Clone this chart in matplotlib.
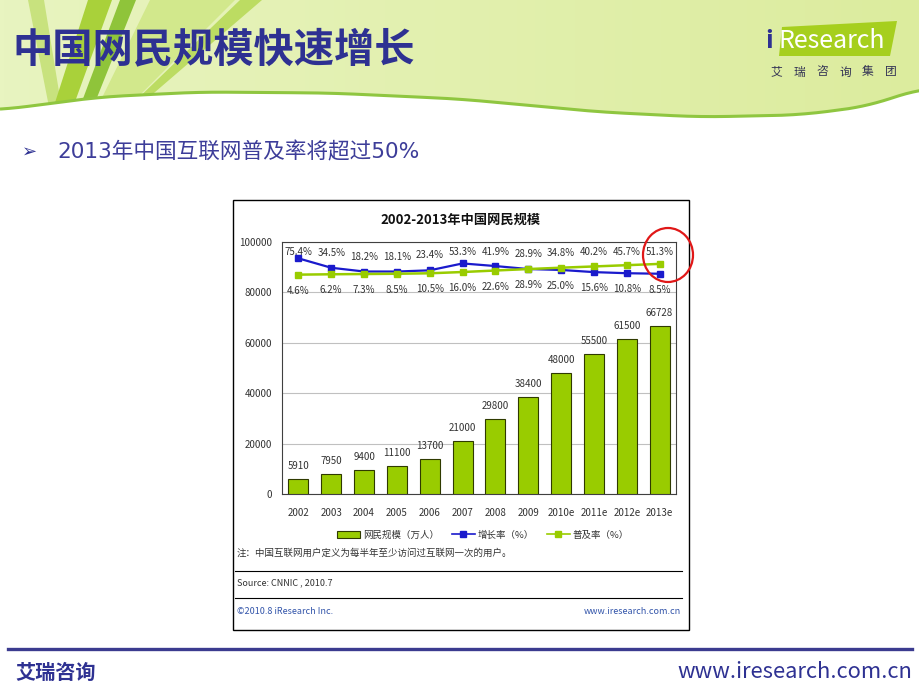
import numpy as np
import matplotlib.pyplot as plt
from matplotlib.patches import Ellipse, Rectangle, Polygon, Patch
from matplotlib.lines import Line2D
from matplotlib.colors import LinearSegmentedColormap

plt.rcParams['font.family'] = ['Noto Sans CJK SC', 'DejaVu Sans']

# Data
years = ['2002', '2003', '2004', '2005', '2006', '2007', '2008', '2009',
         '2010e', '2011e', '2012e', '2013e']
users = [5910, 7950, 9400, 11100, 13700, 21000, 29800, 38400,
         48000, 55500, 61500, 66728]          # 网民规模（万人）
growth = [75.4, 34.5, 18.2, 18.1, 23.4, 53.3, 41.9, 28.9,
          25.0, 15.6, 10.8, 8.5]              # 增长率（%）
penetration = [4.6, 6.2, 7.3, 8.5, 10.5, 16.0, 22.6, 28.9,
               34.8, 40.2, 45.7, 51.3]        # 普及率（%）
y_ticks = [0, 20000, 40000, 60000, 80000, 100000]

navy = '#2e3192'
bar_green = '#99cc00'
line_blue = '#1a1acc'
text_gray = '#333333'

fig = plt.figure(figsize=(9.2, 6.9), dpi=100)

# slide background, in pixel coordinates
bg = fig.add_axes([0, 0, 1, 1], zorder=0)

# header band with wavy lower edge
wave_x = np.linspace(0, 920, 400)
px = [0, 100, 200, 330, 460, 600, 700, 800, 870, 920]
py = [110, 97, 92, 93, 99, 112, 117, 115, 106, 88]
wave_y = np.interp(wave_x, px, py)
kernel = np.ones(25) / 25
wave_y = np.convolve(np.pad(wave_y, 12, mode='edge'), kernel, mode='valid')

head_verts = [(0, 0), (920, 0)] + list(zip(wave_x[::-1], wave_y[::-1]))
head = Polygon(head_verts, closed=True, facecolor='none', edgecolor='none')
bg.add_patch(head)
cmap = LinearSegmentedColormap.from_list('head', ['#e8f4c0', '#e2f0ae', '#dcec9e'])
im = bg.imshow(np.linspace(0, 1, 256)[None, :], extent=(0, 920, 125, 0),
               cmap=cmap, aspect='auto', zorder=0)
im.set_clip_path(head)

stripes = [
    ([(28, 0), (44, 0), (62, 110), (50, 112)], '#c8e27e'),
    ([(88, 0), (112, 0), (72, 110), (52, 112)], '#a9d13a'),
    ([(120, 0), (136, 0), (92, 110), (78, 112)], '#8fc43a'),
    ([(150, 0), (235, 0), (125, 110), (95, 112)], '#d2e88c'),
    ([(240, 0), (262, 0), (140, 105), (128, 108)], '#bcdc62'),
]
for verts, col in stripes:
    s = Polygon(verts, closed=True, facecolor=col, edgecolor='none', zorder=1)
    bg.add_patch(s)
    s.set_clip_path(head)

bg.plot(wave_x, wave_y, color='#8fc640', lw=2.2, zorder=2, solid_capstyle='butt')

bg.set_xlim(0, 920)
bg.set_ylim(690, 0)
bg.axis('off')

# slide title
bg.text(12, 50, '中国网民规模快速增长', fontsize=29, fontweight='bold',
        color=navy, va='center', ha='left')

# logo
bg.add_patch(Polygon([(782, 27), (897, 21), (890, 56), (779, 56)], closed=True,
                     facecolor='#a6cf1e', edgecolor='none', zorder=3))
bg.text(765, 41, 'i', fontsize=18, fontweight='bold', color=navy,
        va='center', ha='left', zorder=4)
bg.text(779, 41, 'Research', fontsize=18, color='white',
        va='center', ha='left', zorder=4)
for cx, ch in zip(np.linspace(776, 891, 6), '艾瑞咨询集团'):
    bg.text(cx, 72, ch, fontsize=8.5, color='#333355', ha='center', va='center')

# bullet line
bg.text(22, 152, '➢', fontsize=13, color=navy, va='center', ha='left',
        family='DejaVu Sans')
bg.text(57, 152, '2013年中国互联网普及率将超过50%', fontsize=15.6,
        color='#3d3d99', va='center', ha='left',
        family=['DejaVu Sans', 'Noto Sans CJK SC'])

# chart frame
bg.add_patch(Rectangle((233, 200), 456, 430, facecolor='white',
                       edgecolor='black', lw=1, zorder=3))
bg.text(461, 220, '2002-2013年中国网民规模', fontsize=9.5, fontweight='bold',
        color='#111111', ha='center', va='center', zorder=4)

bg.text(237, 553, '注：中国互联网用户定义为每半年至少访问过互联网一次的用户。',
        fontsize=6.8, color=text_gray, ha='left', va='center', zorder=4)
bg.plot([235, 682], [571, 571], color='black', lw=0.8, zorder=4)
bg.text(237, 583, 'Source: CNNIC , 2010.7', fontsize=6.5, color=text_gray,
        ha='left', va='center', zorder=4)
bg.plot([235, 682], [598, 598], color='black', lw=0.8, zorder=4)
bg.text(237, 612, '©2010.8 iResearch Inc.', fontsize=6.5, color='#3355aa',
        ha='left', va='center', zorder=4)
bg.text(681, 612, 'www.iresearch.com.cn', fontsize=6.5, color='#3355aa',
        ha='right', va='center', zorder=4)

# footer
bg.plot([8, 912], [649, 649], color='#3b3b8f', lw=2.4, zorder=2)
bg.text(15, 672, '艾瑞咨询', fontsize=14.5, fontweight='bold', color=navy,
        ha='left', va='center')
bg.text(912, 672, 'www.iresearch.com.cn', fontsize=15.8, color=navy,
        ha='right', va='center')

# chart plot area
ax = fig.add_axes([282 / 920, (690 - 494) / 690, 394 / 920, 252 / 690], zorder=2)
x = np.arange(len(years))
ax.bar(x, users, width=0.61, color=bar_green, edgecolor='#2f3a00', lw=0.8,
       zorder=3, label='网民规模（万人）')
for xi, v in zip(x, users):
    ax.annotate(str(v), (xi, v), xytext=(0, 9.5), textcoords='offset points',
                ha='center', va='center', fontsize=7, color=text_gray)

ax.set_xlim(-0.5, len(years) - 0.5)
ax.set_ylim(0, 100000)
ax.set_yticks(y_ticks)
ax.set_yticklabels([str(t) for t in y_ticks])
ax.set_xticks(x)
ax.set_xticklabels(years)
ax.tick_params(axis='x', length=0, pad=10, labelsize=7, labelcolor=text_gray)
ax.tick_params(axis='y', length=0, pad=7, labelsize=7, labelcolor=text_gray)
ax.grid(axis='y', color='#c0c0c0', lw=0.8, zorder=0)
ax.set_axisbelow(True)
for sp in ax.spines.values():
    sp.set_color('#404040')
    sp.set_linewidth(0.8)

# rates on a hidden secondary scale
ax2 = ax.twinx()
ax2.set_ylim(-949, 146.5)
ax2.set_yticks([])
for sp in ax2.spines.values():
    sp.set_visible(False)
ax2.plot(x, growth, color=line_blue, lw=1.6, marker='s', ms=5, zorder=4,
         label='增长率（%）')
ax2.plot(x, penetration, color=bar_green, lw=1.8, marker='s', ms=5, zorder=5,
         label='普及率（%）')
for xi, g, p in zip(x, growth, penetration):
    hi, lo = max(g, p), min(g, p)
    ax2.text(xi, min(hi + 65, 104), f'{hi:.1f}%', ha='center', va='center',
             fontsize=7, color=text_gray)
    ax2.text(xi, lo - 70, f'{lo:.1f}%', ha='center', va='center',
             fontsize=7, color=text_gray)

handles = [Patch(facecolor=bar_green, edgecolor='#2f3a00', lw=0.8),
           Line2D([], [], color=line_blue, lw=1.2, marker='s', ms=4),
           Line2D([], [], color=bar_green, lw=1.2, marker='s', ms=4)]
fig.legend(handles, ['网民规模（万人）', '增长率（%）', '普及率（%）'],
           loc='center', bbox_to_anchor=(483 / 920, 1 - 535 / 690), ncol=3,
           frameon=False, fontsize=6.8, handlelength=2.4, handletextpad=0.3,
           columnspacing=1.4, labelcolor=text_gray)

# red highlight around 2013e
fig.add_artist(Ellipse((668, 255), 50, 54, transform=bg.transData,
                       facecolor='none', edgecolor='#e01818', lw=1.6, zorder=10))

fig.savefig('out.png', dpi=100)
